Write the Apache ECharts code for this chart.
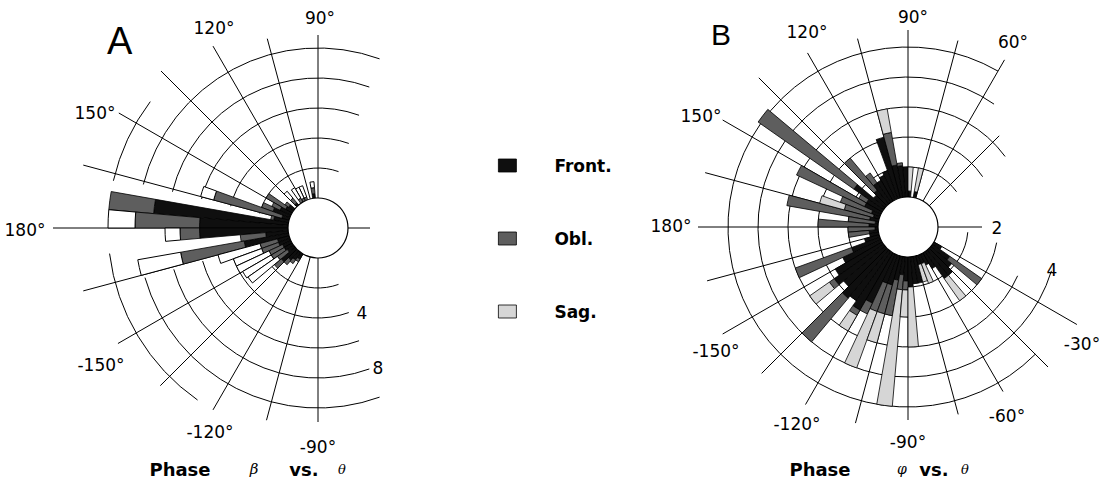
<!DOCTYPE html>
<html>
<head>
<meta charset="utf-8">
<script src="https://cdn.jsdelivr.net/npm/echarts@6/dist/echarts.min.js"></script>
<style>
  html, body { margin: 0; padding: 0; background: #fff; }
  #chart { width: 1108px; height: 482px; }
</style>
</head>
<body>
<div id="chart"></div>
<script>
// Phase histograms, 5-degree bins (bin centre in degrees, 0..360, counter-clockwise from +x).
// Panel A: phase beta vs. theta
const binsA  = [97.5, 112.5, 117.5, 122.5, 132.5, 142.5, 147.5, 152.5, 157.5, 162.5, 167.5, 172.5, 177.5,
                182.5, 187.5, 192.5, 197.5, 202.5, 207.5, 212.5, 217.5, 222.5, 227.5, 232.5, 237.5];
const frontA = [0.3, 0, 0, 0, 0.2, 0.4, 0.5, 0.8, 1.2, 0.5, 1.0, 9.0, 5.9,
                5.9, 1.5, 3.0, 0.8, 0.8, 0.6, 0.6, 0.5, 1.2, 0.8, 0.6, 0.4];
const oblA   = [0.4, 0.2, 0.2, 0.3, 0.4, 0.3, 1.5, 0.6, 0.8, 4.7, 0.2, 3.1, 4.3,
                1.3, 1.7, 4.3, 1.2, 1.2, 1.0, 1.0, 0.8, 0.6, 0.4, 0.3, 0.2];
const sagA   = [0.4, 0.8, 0.8, 0.8, 0.6, 0, 0, 0, 0, 0.9, 0, 0, 1.9,
                1.0, 0, 2.9, 2.9, 2.0, 2.4, 2.2, 2.4, 0, 0, 0, 0];

// Panel B: phase phi vs. theta
const binsB  = [77.5, 87.5, 92.5, 97.5, 102.5, 107.5, 112.5, 117.5, 122.5, 127.5,
                132.5, 137.5, 142.5, 147.5, 152.5, 157.5, 162.5, 167.5, 172.5, 177.5,
                182.5, 187.5, 192.5, 197.5, 202.5, 207.5, 212.5, 217.5, 222.5, 227.5,
                232.5, 237.5, 242.5, 247.5, 252.5, 257.5, 262.5, 267.5, 272.5, 277.5,
                282.5, 287.5, 292.5, 297.5, 302.5, 307.5, 312.5, 317.5, 322.5, 327.5];
const frontB = [0.2, 0.2, 1.0, 1.05, 1.1, 2.1, 1.0, 0.9, 0.8, 0.8,
                0.6, 0.5, 1.2, 0.6, 0.6, 0.3, 0.2, 0.3, 0.1, 0.3,
                0.1, 0.3, 0.3, 0.5, 1.0, 1.4, 1.8, 2.0, 1.8, 2.1,
                2.0, 2.2, 1.8, 1.0, 1.0, 0.8, 0.6, 0.8, 1.0, 0.9,
                0.9, 0.3, 0.3, 0.4, 0.6, 1.1, 1.1, 0.9, 0.7, 0.3];
const oblB   = [0, 0, 0, 0.1, 1.1, 0, 0, 0, 0, 0.4,
                1.4, 0, 3.9, 0.3, 2.5, 1.1, 1.0, 2.8, 0.9, 1.7,
                0.9, 0.7, 0, 0, 2.0, 0, 0, 0.2, 0, 1.9,
                0, 0.2, 0.4, 1.0, 1.0, 1.2, 0.5, 0.3, 0, 0,
                0, 0, 0, 0, 0, 0, 0, 0, 1.3, 0];
const sagB   = [0.8, 0.8, 0, 0, 0.8, 0, 0, 0, 0, 0,
                0, 0, 0, 0, 0, 0, 0.85, 0, 0, 0,
                0, 0, 0, 0, 0, 0, 0, 0.8, 0, 0,
                0, 0.6, 0, 2.0, 1.0, 0, 3.9, 0.9, 2.0, 0,
                0, 0.6, 0.7, 0, 0, 0.9, 0, 0, 0, 0];

const groups = ['Front.', 'Obl.', 'Sag.'];
const angleTicksA  = ['90°', '120°', '150°', '180°', '-150°', '-120°', '-90°'];
const radiusTicksA = ['4', '8'];
const angleTicksB  = ['60°', '90°', '120°', '150°', '180°', '-150°', '-120°', '-90°', '-60°', '-30°'];
const radiusTicksB = ['2', '4'];

const FONT = '"DejaVu Sans", "Liberation Sans", sans-serif';
const RAD = Math.PI / 180;
const BIN = 5;
const sectors = Array.from({ length: 360 / BIN }, (_, i) => String(i * BIN));

function toSectorData(bins, values) {
  const out = sectors.map(() => '-');
  bins.forEach((c, k) => {
    if (values[k] > 0) out[Math.round((c - BIN / 2) / BIN)] = values[k];
  });
  return out;
}

// Grid layout: ring values with the arcs they span (degrees), spokes with outer pixel length,
// tick labels with their offsets from the pole.
const gridA = {
  rings: [
    { v: 2, spans: [[70, 166], [196, 290]] },
    { v: 4, spans: [[70, 166], [196, 290]] },
    { v: 6, spans: [[70, 166], [196, 290]] },
    { v: 8, spans: [[70, 166], [196, 290]] },
    { v: 10, spans: [[70, 166], [196, 290]] },
    { v: 12, spans: [[143, 167], [187, 235]] }
  ],
  spokes: [[0, 52], [90, 193], [105, 196], [120, 210], [135, 222], [150, 230], [165, 243], [180, 265],
           [195, 243], [210, 231], [225, 223], [240, 210], [255, 199], [270, 194]],
  labels: [
    [angleTicksA[0], 2, -210], [angleTicksA[1], -104, -200], [angleTicksA[2], -223, -115],
    [angleTicksA[3], -293, 2], [angleTicksA[4], -217, 137], [angleTicksA[5], -108, 204],
    [angleTicksA[6], 0, 219], [radiusTicksA[0], 44, 85], [radiusTicksA[1], 60, 140]
  ]
};
const gridB = {
  rings: [
    { v: 1, spans: [[36, 355]] },
    { v: 2, spans: [[34, 350]] },
    { v: 3, spans: [[36, 336]] },
    { v: 4, spans: [[55, 343]] },
    { v: 5, spans: [[60, 315]] }
  ],
  spokes: [[0, 74], [45, 129], [60, 193], [75, 193], [90, 197], [105, 195], [120, 201], [135, 211],
           [150, 214], [165, 210], [180, 210], [195, 208], [210, 214], [225, 207], [240, 205],
           [255, 203], [270, 193], [285, 194], [300, 190], [315, 198], [330, 195]],
  labels: [
    [angleTicksB[0], 105, -185], [angleTicksB[1], 5, -210], [angleTicksB[2], -101, -195],
    [angleTicksB[3], -207, -111], [angleTicksB[4], -237, -1], [angleTicksB[5], -192, 124],
    [angleTicksB[6], -111, 197], [angleTicksB[7], 0, 215], [angleTicksB[8], 99, 189],
    [angleTicksB[9], 174, 117], [radiusTicksB[0], 89, 1], [radiusTicksB[1], 144, 43]
  ]
};

function gridRenderer(spec) {
  return function (params, api) {
    const cs = params.coordSys;
    const cx = cs.cx, cy = cs.cy;
    const px = v => { const p = api.coord([v, 0]); return Math.hypot(p[0] - cx, p[1] - cy); };
    const r0 = px(0);
    const line = { stroke: '#000', lineWidth: 1, fill: 'none' };
    const children = [];
    spec.rings.forEach(ring => {
      const r = px(ring.v);
      ring.spans.forEach(([a1, a2]) => {
        children.push({ type: 'arc', shape: { cx, cy, r, startAngle: -a2 * RAD, endAngle: -a1 * RAD, clockwise: true }, style: line });
      });
    });
    spec.spokes.forEach(([a, len]) => {
      const c = Math.cos(a * RAD), s = Math.sin(a * RAD);
      children.push({ type: 'line', shape: { x1: cx + r0 * c, y1: cy - r0 * s, x2: cx + len * c, y2: cy - len * s }, style: line });
    });
    spec.labels.forEach(([t, dx, dy]) => {
      children.push({ type: 'text', style: { text: t, x: cx + dx, y: cy + dy, fill: '#000', font: '17px ' + FONT, align: 'center', verticalAlign: 'middle' } });
    });
    return { type: 'group', children };
  };
}

function holeRenderer(params, api) {
  const cs = params.coordSys;
  const p = api.coord([0, 0]);
  const r = Math.hypot(p[0] - cs.cx, p[1] - cs.cy);
  return { type: 'circle', shape: { cx: cs.cx, cy: cs.cy, r }, style: { fill: '#fff', stroke: '#000', lineWidth: 1.2 } };
}

const styleFront = { color: '#0f0f0f', borderColor: '#000', borderWidth: 0.8 };
const styleObl   = { color: '#5e5e5e', borderColor: '#000', borderWidth: 0.8 };
const styleSagA  = { color: '#ffffff', borderColor: '#000', borderWidth: 1 };
const styleSagB  = { color: '#d6d6d6', borderColor: '#000', borderWidth: 0.8 };

function barSeries(name, data, polarIndex, stack, itemStyle) {
  return {
    type: 'bar', name, data, coordinateSystem: 'polar', polarIndex, stack,
    barCategoryGap: '0%', barGap: '0%', itemStyle, z: 2, silent: true
  };
}

const angleAxisBase = {
  type: 'category', data: sectors, startAngle: 0, clockwise: false, boundaryGap: true,
  axisLine: { show: false }, axisTick: { show: false }, axisLabel: { show: false }, splitLine: { show: false }
};
const radiusAxisBase = {
  type: 'value', min: 0,
  axisLine: { show: false }, axisTick: { show: false }, axisLabel: { show: false }, splitLine: { show: false }
};

const chart = echarts.init(document.getElementById('chart'), null, { renderer: 'svg' });
chart.setOption({
  animation: false,
  backgroundColor: '#fff',
  polar: [
    { center: [318, 228], radius: [30, 210] },
    { center: [908, 227], radius: [30, 210] }
  ],
  angleAxis: [
    Object.assign({ polarIndex: 0 }, angleAxisBase),
    Object.assign({ polarIndex: 1 }, angleAxisBase)
  ],
  radiusAxis: [
    Object.assign({ polarIndex: 0, max: 12 }, radiusAxisBase),
    Object.assign({ polarIndex: 1, max: 6 }, radiusAxisBase)
  ],
  legend: {
    orient: 'vertical', left: 493, top: 152, itemWidth: 18, itemHeight: 13, itemGap: 56,
    icon: 'rect', selectedMode: false,
    textStyle: { fontFamily: FONT, fontWeight: 'bold', fontSize: 17, color: '#000', lineHeight: 13, padding: [0, 0, 0, 33] },
    data: [
      { name: groups[0], itemStyle: styleFront },
      { name: groups[1], itemStyle: styleObl },
      { name: groups[2], itemStyle: styleSagB }
    ]
  },
  graphic: [
    { type: 'text', left: 107, top: 22, style: { text: 'A', font: '38px "Liberation Sans", sans-serif', fill: '#000' } },
    { type: 'text', left: 711, top: 19, style: { text: 'B', font: '30px "Liberation Sans", sans-serif', fill: '#000' } },
    { type: 'text', x: 180, y: 469, style: { text: 'Phase', font: 'bold 18px ' + FONT, fill: '#000', align: 'center', verticalAlign: 'middle' } },
    { type: 'text', x: 254, y: 469, style: { text: 'β', font: 'italic 15px "DejaVu Serif", serif', fill: '#000', align: 'center', verticalAlign: 'middle' } },
    { type: 'text', x: 304, y: 469, style: { text: 'vs.', font: 'bold 18px ' + FONT, fill: '#000', align: 'center', verticalAlign: 'middle' } },
    { type: 'text', x: 342, y: 469, style: { text: 'θ', font: 'italic 13px "DejaVu Serif", serif', fill: '#000', align: 'center', verticalAlign: 'middle' } },
    { type: 'text', x: 820, y: 469, style: { text: 'Phase', font: 'bold 18px ' + FONT, fill: '#000', align: 'center', verticalAlign: 'middle' } },
    { type: 'text', x: 902, y: 469, style: { text: 'φ', font: 'italic 14px "DejaVu Serif", serif', fill: '#000', align: 'center', verticalAlign: 'middle' } },
    { type: 'text', x: 934, y: 469, style: { text: 'vs.', font: 'bold 18px ' + FONT, fill: '#000', align: 'center', verticalAlign: 'middle' } },
    { type: 'text', x: 965, y: 469, style: { text: 'θ', font: 'italic 13px "DejaVu Serif", serif', fill: '#000', align: 'center', verticalAlign: 'middle' } }
  ],
  series: [
    { type: 'custom', coordinateSystem: 'polar', polarIndex: 0, data: [[0, 0]], renderItem: gridRenderer(gridA), silent: true, z: 1 },
    { type: 'custom', coordinateSystem: 'polar', polarIndex: 1, data: [[0, 0]], renderItem: gridRenderer(gridB), silent: true, z: 1 },
    barSeries(groups[0], toSectorData(binsA, frontA), 0, 'A', styleFront),
    barSeries(groups[1], toSectorData(binsA, oblA), 0, 'A', styleObl),
    barSeries(groups[2], toSectorData(binsA, sagA), 0, 'A', styleSagA),
    barSeries(groups[0], toSectorData(binsB, frontB), 1, 'B', styleFront),
    barSeries(groups[1], toSectorData(binsB, oblB), 1, 'B', styleObl),
    barSeries(groups[2], toSectorData(binsB, sagB), 1, 'B', styleSagB),
    { type: 'custom', coordinateSystem: 'polar', polarIndex: 0, data: [[0, 0]], renderItem: holeRenderer, silent: true, z: 3 },
    { type: 'custom', coordinateSystem: 'polar', polarIndex: 1, data: [[0, 0]], renderItem: holeRenderer, silent: true, z: 3 }
  ]
});
</script>
</body>
</html>
